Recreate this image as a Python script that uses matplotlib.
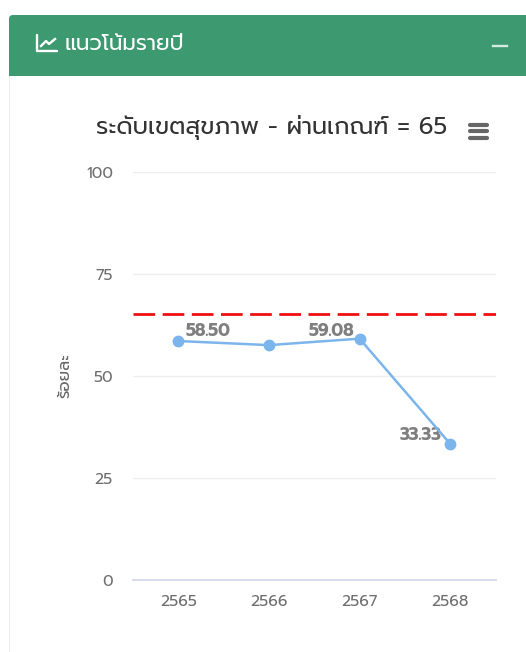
import matplotlib
matplotlib.use("Agg")
import matplotlib.pyplot as plt
from matplotlib.patches import FancyBboxPatch, Rectangle

years = ["2565", "2566", "2567", "2568"]
percent = [58.50, 57.5, 59.08, 33.33]
labels = ["58.50", None, "59.08", "33.33"]
y_ticks = [0, 25, 50, 75, 100]
threshold = 65

title = "ระดับเขตสุขภาพ - ผ่านเกณฑ์ = 65"
header = "แนวโน้มรายปี"
y_title = "ร้อยละ"

plt.rcParams['font.family'] = ['Prompt', 'DejaVu Sans']

W, H = 526, 652
fig = plt.figure(figsize=(W / 100, H / 100), dpi=100)

# page background in pixel coordinates
bg = fig.add_axes([0, 0, 1, 1])
bg.set_xlim(0, W)
bg.set_ylim(H, 0)
bg.axis("off")
bg.add_patch(FancyBboxPatch((9, 15), W + 20, 80, boxstyle="round,pad=0,rounding_size=4",
                            fc="#3d9970", ec="none"))
bg.add_patch(Rectangle((0, 76), W, H, color="white", lw=0))
bg.add_patch(Rectangle((8.5, 76), 1.2, H - 76, color="#ececec", lw=0))

# header icon and collapse sign
bg.plot([37, 37, 57], [35, 51, 51], color="white", lw=1.7, solid_capstyle="round")
bg.plot([41, 46, 49, 55], [46, 41, 44, 39], color="white", lw=1.7)
bg.plot([493, 507], [45.5, 45.5], color="#d8ebe2", lw=1.7)
bg.text(65, 45, header, color="white", fontsize=15.5, va="center", ha="left")

# hamburger menu
for y in [124.5, 131, 137.5]:
    bg.plot([469.5, 487], [y, y], color="#666666", lw=3, solid_capstyle="round")

bg.text(272, 127, title, color="#333333", fontsize=17.3, ha="center", va="center")

ax = fig.add_axes([133 / W, 1 - 580 / H, (495.5 - 133) / W, (580 - 171.5) / H])
ax.patch.set_alpha(0)
x = range(len(years))
ax.plot(x, percent, color="#7cb5ec", lw=1.8, marker="o", ms=7.5, zorder=4)
ax.axhline(threshold, color="#f00f0f", lw=2, dashes=(7.8, 2.7), zorder=3)

offsets = [(5, 6.5), None, (-4, 5.5), (-6, 6)]
aligns = ["left", None, "right", "right"]
for i, lab in enumerate(labels):
    if lab is None:
        continue
    ax.annotate(lab, (i, percent[i]), xytext=offsets[i], textcoords="offset points",
                ha=aligns[i], va="center", fontsize=12.3, fontweight="bold", color="#7f7f7f")

ax.set_xlim(-0.5, 3.5)
ax.set_ylim(0, 100)
ax.set_yticks(y_ticks)
ax.set_xticks(list(x))
ax.set_xticklabels(years)
ax.grid(axis="y", color="#eeeeee", lw=1)
ax.set_axisbelow(True)
for s in ["top", "right", "left"]:
    ax.spines[s].set_visible(False)
ax.spines["bottom"].set_color("#d8dcee")
ax.spines["bottom"].set_linewidth(1.5)
ax.tick_params(axis="both", length=0, labelsize=11.3, labelcolor="#6e6e6e")
ax.tick_params(axis="x", pad=10)
ax.tick_params(axis="y", pad=14.5)
bg.text(65, 376, y_title, rotation=90, color="#666666", fontsize=12,
        ha="center", va="center")

fig.savefig("out.png", dpi=100)
